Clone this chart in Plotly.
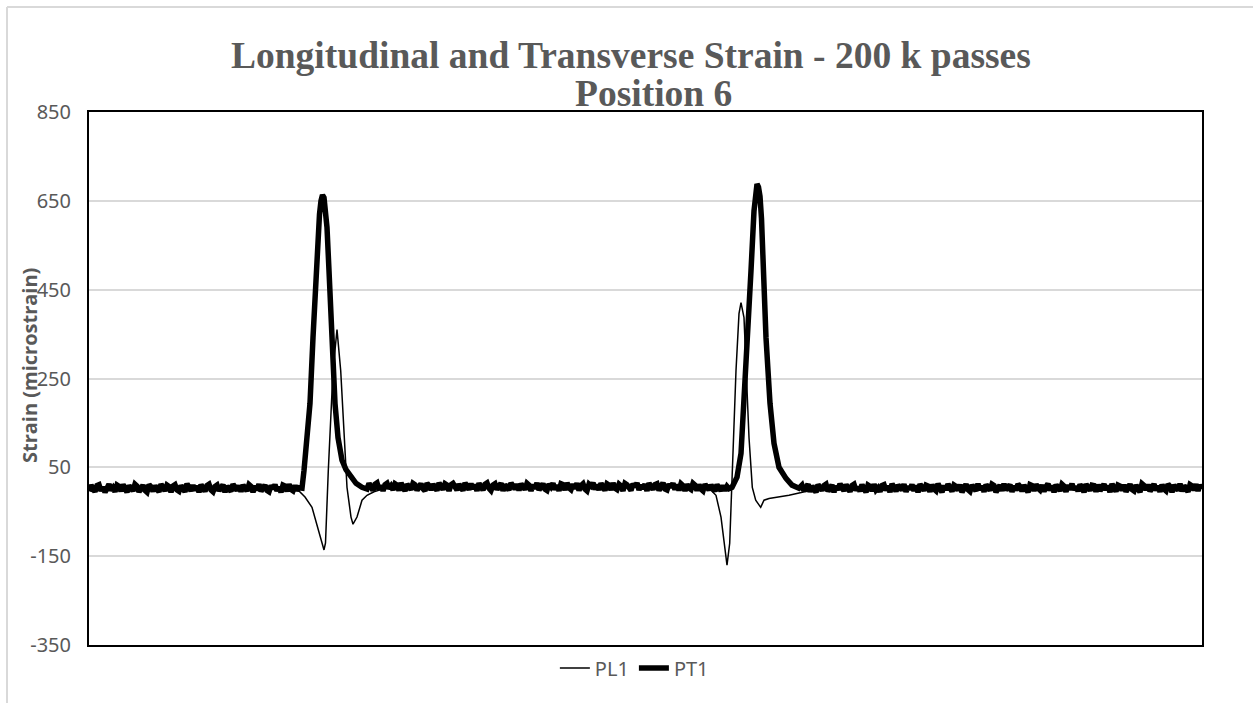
import numpy as np
import plotly.graph_objects as go

# ---------------- data (sample index vs strain, microstrain) ----------------
# PT1 (transverse) baseline noise segments (read as a noisy band around ~3-6 microstrain)
pt1_base_a = [-4, 10, 2, -5, 9, 11, -3, 6, -6, 8, 12, -2, 4, -5, 10, 7, -4, 11, 0, -6, 9, 3, -3, 12, 8, -5, 5, 10, -2, -6,
              11, 6, -4, 9, 1, -5, 12, 4, -3, 10, 7, -6, 8, 11, -1, -4, 9, 2, -5, 13, 6, -3, 10, -2, 8, -6, 11, 3, -4, 9,
              12, -1, -5, 7, 10, -3, 4, 11, -6, 8, 1, -4, 12, 6, -2, 9, -5, 10, 3, -3, 11, 7, -6, 8, -1, 12, -4, 5, 10, -2,
              -5, 9, 2, 11, -3, 6, -6, 10, 8, -4, 12, 0, -3, 9, -2, 4]
pt1_base_a_range = [0, 210]

pt1_peak1_x = [213, 215, 218, 221, 224, 227, 229, 230.5, 232, 233.5, 235, 236.5, 238, 240, 243, 246, 249, 253, 257, 262, 267, 273]
pt1_peak1_y = [3, 43, 111, 194, 342, 493, 570, 620, 650, 663, 657, 632, 590, 493, 342, 194, 117, 66, 45, 28, 14, 5]

pt1_base_b = [1, 14, 7, -2, 12, 15, 0, 9, -3, 11, 14, 2, 8, -1, 13, 10, -2, 15, 4, -3, 12, 7, 0, 14, 11, -2, 9, 13, 2, -3,
              14, 9, -1, 12, 5, -2, 15, 8, 0, 13, 10, -3, 11, 14, 3, -1, 12, 6, -2, 15, 9, 0, 13, 2, 11, -3, 14, 7, -1, 12,
              15, 3, -2, 10, 13, 0, 8, 14, -3, 11, 5, -1, 15, 9, 1, 12, -2, 13, 7, 0, 14, 10, -3, 11, 2, 15, -1, 8, 13, 1,
              -2, 12, 6, 14, 0, 10, -3, 13, 11, -1, 15, 4, 0, 12, 2, 14, -2, 9, 13, 1, -3, 12, 8, 15, 0, 11, -1, 14, 6, -2,
              13, 10, -1, 15, 3, 0, 12, 8, -3, 14, 11, 1, -2, 13, 6, 15, -1, 10, 2, 12, -3, 14, 9, 0, 11, 13, -2, 7, 15, 1,
              -1, 12, 5, 14, 0, 11, -2, 13, 9, -3, 12, 3, 0, 14, 10, -2, 11, 1, -3, 12, 7, -1, 10, 0, -4, 11, 3, -3, 9, -2, 7, 2]
pt1_base_b_range = [278, 640]

pt1_peak2_x = [643, 648, 652, 655, 658, 662, 665, 666.5, 668, 669.5, 671, 672.5, 674, 677, 681, 685, 690, 697, 703, 710]
pt1_peak2_y = [5, 28, 81, 194, 342, 493, 627, 668, 688, 681, 660, 610, 493, 342, 194, 104, 50, 25, 10, 3]

pt1_base_c = [10, -3, 4, 12, -5, 8, 1, -6, 11, 6, -2, 9, 12, -4, 3, 10, -6, 8, -1, 13, 5, -3, 11, 0, -5, 9, 12, -2, 6, -4,
              11, 2, -6, 10, 7, -3, 12, -1, 4, -5, 9, 11, -2, 8, -6, 13, 3, -4, 10, 6, -1, 12, -5, 7, 0, 11, -3, 9, -6, 12,
              4, -2, 10, 8, -5, 11, 1, -3, 13, 6, -6, 9, -1, 12, 3, -4, 10, 7, -2, 11, -6, 8, 12, 0, -4, 10, 5, -3, 13, -1,
              8, -5, 11, 2, -2, 12, 9, -6, 6, 10, -3, 13, -1, 4, 11, -5, 8, -2, 12, 7, -4, 10, 1, -6, 11, 9, -3, 12, 3, -1,
              10, -4, 6, 13, -2, 9, -6, 11, 4, -3, 12, 8, -5, 10, 0, 13, -1, 7, -4, 11, 5, -6, 12, 2, -2, 10, 9, -5, 11, -3,
              6, 12, -1, 9, -6, 13, 3, -4, 10, 8, -2, 11, -5, 7, 12, 0, -3, 10, 4, -6, 13, 9, -1, 11, -4, 6, 12, -2, 8, -5,
              11, 1, -3, 12, 7, -6, 10, 4, -2, 13, -4, 9, 2, -5, 11, 8, -1, 12, -3, 10, 3]
pt1_base_c_range = [713, 1113]

# PL1 (longitudinal)
pl1_x = [0, 30, 60, 90, 120, 150, 180, 200,
         210, 216, 223, 228, 232, 235, 236.5, 239.3, 244, 248, 251.7, 255, 258, 262, 264, 268, 273, 278, 285, 295,
         300, 340, 380, 420, 460, 500, 540, 580, 620,
         627, 632, 635, 638, 640.7, 643.3, 647, 650, 652, 655, 657.3, 660, 663.3, 666.7, 671.7, 675, 680, 690, 700, 710, 720, 740,
         760, 800, 850, 900, 950, 1000, 1050, 1100, 1113]
pl1_y = [3, 4, 2, 3, 4, 3, 2, 1,
         -3, -17, -40, -80, -114, -136, -120, 43, 268, 360, 268, 117, 5, -62, -78, -62, -24, -13, -5, 2,
         4, 6, 7, 8, 7, 8, 7, 6, 3,
         -13, -62, -121, -170, -121, 43, 268, 396, 421, 387, 268, 117, 5, -24, -40, -24, -20, -17, -13, -8, -3, 1,
         2, 3, 3, 4, 3, 4, 3, 4, 3]

y_ticks = [-350, -150, 50, 250, 450, 650, 850]
y_tick_text = ["-350", "-150", "50", "250", "450", "650", "850"]
title_line1 = "Longitudinal and Transverse Strain - 200 k passes"
title_line2 = "Position 6"
y_title = "Strain (microstrain)"

# ---------------- assemble PT1 ----------------
pt1_x = (list(np.linspace(*pt1_base_a_range, len(pt1_base_a))) + pt1_peak1_x +
         list(np.linspace(*pt1_base_b_range, len(pt1_base_b))) + pt1_peak2_x +
         list(np.linspace(*pt1_base_c_range, len(pt1_base_c))))
pt1_y = pt1_base_a + pt1_peak1_y + pt1_base_b + pt1_peak2_y + pt1_base_c

GREY = "#595959"

fig = go.Figure()
fig.add_trace(go.Scatter(x=pl1_x, y=pl1_y, mode="lines", name="PL1",
                         line=dict(color="black", width=1.5)))
fig.add_trace(go.Scatter(x=pt1_x, y=pt1_y, mode="lines", name="PT1",
                         line=dict(color="black", width=5.5)))

fig.update_layout(
    width=1253, height=703,
    margin=dict(l=89, r=51, t=112, b=58),
    paper_bgcolor="white", plot_bgcolor="white",
    showlegend=True,
    legend=dict(orientation="h", x=0.49, xanchor="center", y=-0.043, yanchor="middle",
                font=dict(family="Noto Sans", size=20, color=GREY), bgcolor="rgba(0,0,0,0)"),
    font=dict(family="Noto Sans", color=GREY),
)
fig.update_xaxes(range=[0, 1113], showticklabels=False, showgrid=False, zeroline=False,
                 showline=True, linecolor="black", linewidth=2, mirror=True, ticks="")
fig.update_yaxes(range=[-350, 850], tickvals=y_ticks, ticktext=y_tick_text,
                 showgrid=True, gridcolor="#d9d9d9", gridwidth=1.5,
                 zeroline=False, showline=True, linecolor="black", linewidth=2, mirror=True,
                 tickfont=dict(family="Noto Sans", size=20, color=GREY), ticklabelstandoff=12)

fig.add_annotation(text="<b>" + title_line1 + "</b>", xref="paper", yref="paper",
                   x=(630.5 - 89) / 1113, y=(645 - 56) / 533, xanchor="center", yanchor="middle",
                   showarrow=False, font=dict(family="Liberation Serif", size=37.5, color=GREY))
fig.add_annotation(text="<b>" + title_line2 + "</b>", xref="paper", yref="paper",
                   x=(653 - 89) / 1113, y=(645 - 93) / 533, xanchor="center", yanchor="middle",
                   showarrow=False, font=dict(family="Liberation Serif", size=37.5, color=GREY))
fig.add_annotation(text="<b>" + y_title + "</b>", xref="paper", yref="paper", textangle=-90,
                   x=(29 - 89) / 1113, y=(645 - 366) / 533, xanchor="center", yanchor="middle",
                   showarrow=False, font=dict(family="Open Sans", size=20, color=GREY))

# outer chart border (top and left visible)
bx = (7 - 89) / 1113
by = (645 - 7) / 533
fig.add_shape(type="line", xref="paper", yref="paper", x0=bx, x1=1.2, y0=by, y1=by,
              line=dict(color="#d9d9d9", width=2))
fig.add_shape(type="line", xref="paper", yref="paper", x0=bx, x1=bx, y0=by, y1=-0.2,
              line=dict(color="#d9d9d9", width=2))

fig.write_html("out.html", config={"displayModeBar": False},
               post_script="document.body.style.margin='0';")
